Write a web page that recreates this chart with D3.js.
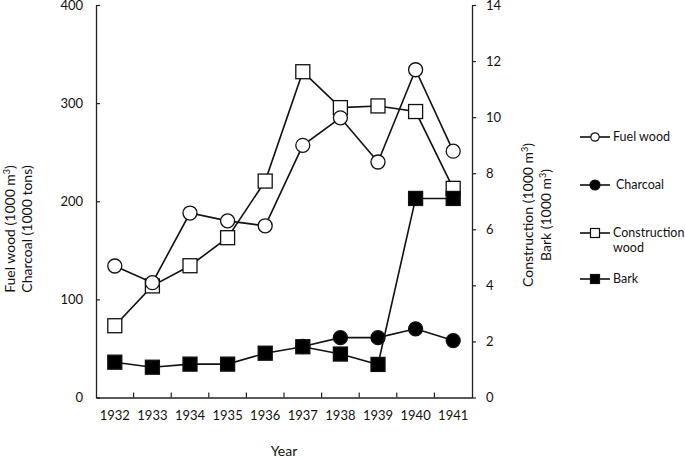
<!DOCTYPE html>
<html lang="en">
<head>
    <title>Wood products 1932-1941</title>
    <script src="https://d3js.org/d3.v7.min.js"></script>
    <style>
        body { margin: 0; background: #fff; }
        text { font-family: Lato, "Open Sans", sans-serif; fill: #111; }
    </style>
</head>
<body>
<svg id="g1"></svg>
<script>

    // values
    let years = ["1932","1933","1934","1935","1936","1937","1938","1939","1940","1941"];
    let fuelWood = [134, 117, 188, 180, 175, 257, 285, 240, 334, 251];
    let charcoal = [null, null, null, null, null, 52, 61, 61, 70, 58];
    let construction = [2.56, 3.98, 4.7, 5.7, 7.72, 11.62, 10.34, 10.4, 10.2, 7.46];
    let bark = [1.26, 1.08, 1.19, 1.19, 1.58, 1.81, 1.55, 1.18, 7.1, 7.1];
    let leftTicks = [0, 100, 200, 300, 400];
    let rightTicks = [0, 2, 4, 6, 8, 10, 12, 14];

    let width = 685, height = 459;
    let margin = {top: 5, left: 96, right: 472, bottom: 397.5};

    let svg = d3.select("#g1")
        .attr("width", width)
        .attr("height", height);

    let x = d3.scaleBand().domain(years).range([margin.left, margin.right]);
    let yLeft = d3.scaleLinear().domain([0, 400]).range([margin.bottom, margin.top]);
    let yRight = d3.scaleLinear().domain([0, 14]).range([margin.bottom, margin.top]);

    // axes
    let xAxis = svg.append("g")
        .attr("transform", `translate(0,${margin.bottom})`)
        .call(d3.axisBottom(x).tickSize(0).tickPadding(13));
    xAxis.select(".domain").attr("stroke", "#222").attr("stroke-width", 1.3);
    xAxis.selectAll("text").attr("font-size", 13).attr("dy", "0.75em");
    // tick marks between the years
    xAxis.selectAll(".sep")
        .data(years.slice(1))
        .enter().append("line")
        .attr("x1", d => x(d)).attr("x2", d => x(d))
        .attr("y1", 0).attr("y2", -5)
        .attr("stroke", "#222").attr("stroke-width", 1.2);

    let leftAxis = svg.append("g")
        .attr("transform", `translate(${margin.left},0)`)
        .call(d3.axisLeft(yLeft).tickValues(leftTicks).tickSizeInner(-4).tickSizeOuter(0).tickPadding(13));
    leftAxis.select(".domain").attr("stroke", "#222").attr("stroke-width", 1.3);
    leftAxis.selectAll("line").attr("stroke", "#222").attr("stroke-width", 1.2);
    leftAxis.selectAll("text").attr("font-size", 13);

    let rightAxis = svg.append("g")
        .attr("transform", `translate(${margin.right},0)`)
        .call(d3.axisRight(yRight).tickValues(rightTicks).tickSizeInner(4).tickSizeOuter(0).tickPadding(10));
    rightAxis.select(".domain").attr("stroke", "#222").attr("stroke-width", 1.3);
    rightAxis.selectAll("line").attr("stroke", "#222").attr("stroke-width", 1.2);
    rightAxis.selectAll("text").attr("font-size", 13);

    // axis titles
    svg.append("text")
        .attr("x", (margin.left + margin.right) / 2).attr("y", 456)
        .attr("text-anchor", "middle").attr("font-size", 14)
        .text("Year");

    let leftTitle = svg.append("text")
        .attr("transform", "translate(15,229) rotate(-90)")
        .attr("text-anchor", "middle").attr("font-size", 14);
    leftTitle.append("tspan").attr("x", 0).attr("dy", 0).text("Fuel wood (1000 m")
        .append("tspan").attr("baseline-shift", "super").attr("font-size", 9).text("3");
    leftTitle.append("tspan").text(")");
    leftTitle.append("tspan").attr("x", 0).attr("dy", 17).text("Charcoal (1000 tons)");

    let rightTitle = svg.append("text")
        .attr("transform", "translate(533,215) rotate(-90)")
        .attr("text-anchor", "middle").attr("font-size", 14);
    rightTitle.append("tspan").attr("x", 0).attr("dy", 0).text("Construction (1000 m")
        .append("tspan").attr("baseline-shift", "super").attr("font-size", 9).text("3");
    rightTitle.append("tspan").text(")");
    let bt = rightTitle.append("tspan").attr("x", 0).attr("dy", 18).text("Bark (1000 m");
    bt.append("tspan").attr("baseline-shift", "super").attr("font-size", 9).text("3");
    rightTitle.append("tspan").text(")");

    // series
    let cx = i => x(years[i]) + x.bandwidth() / 2;
    let series = [
        {name: "Construction", values: construction, y: yRight, shape: "square", fill: "#fff"},
        {name: "Fuel wood", values: fuelWood, y: yLeft, shape: "circle", fill: "#fff"},
        {name: "Charcoal", values: charcoal, y: yLeft, shape: "circle", fill: "#000"},
        {name: "Bark", values: bark, y: yRight, shape: "square", fill: "#000"}
    ];

    let plot = svg.append("g").attr("id", "points");

    series.forEach(s => {
        let pts = s.values.map((v, i) => ({i: i, v: v})).filter(d => d.v != null);
        let line = d3.line().x(d => cx(d.i)).y(d => s.y(d.v));
        let g = plot.append("g");
        g.append("path")
            .attr("d", line(pts))
            .attr("fill", "none")
            .attr("stroke", "#111")
            .attr("stroke-width", 1.6);
        if (s.shape == "circle") {
            g.selectAll("circle").data(pts).enter().append("circle")
                .attr("cx", d => cx(d.i)).attr("cy", d => s.y(d.v))
                .attr("r", 7)
                .attr("fill", s.fill).attr("stroke", "#111").attr("stroke-width", 1.3);
        } else {
            g.selectAll("rect").data(pts).enter().append("rect")
                .attr("x", d => cx(d.i) - 7).attr("y", d => s.y(d.v) - 7)
                .attr("width", 14).attr("height", 14)
                .attr("fill", s.fill).attr("stroke", "#111").attr("stroke-width", 1.3);
        }
    });

    // legend
    let legendItems = [
        {label: ["Fuel wood"], shape: "circle", fill: "#fff", y: 137, dx: 0},
        {label: ["Charcoal"], shape: "circle", fill: "#000", y: 185, dx: 3},
        {label: ["Construction", "wood"], shape: "square", fill: "#fff", y: 233, dx: 0},
        {label: ["Bark"], shape: "square", fill: "#000", y: 279, dx: 0}
    ];
    let legend = svg.append("g").attr("id", "legend");
    legendItems.forEach(d => {
        let g = legend.append("g").attr("transform", `translate(0,${d.y})`);
        g.append("line").attr("x1", 580).attr("x2", 610).attr("y1", 0).attr("y2", 0)
            .attr("stroke", "#111").attr("stroke-width", 1.6);
        if (d.shape == "circle") {
            g.append("circle").attr("cx", 595).attr("cy", 0)
                .attr("r", d.fill == "#000" ? 5 : 4.2)
                .attr("fill", d.fill).attr("stroke", "#111").attr("stroke-width", 1.2);
        } else {
            g.append("rect").attr("x", 590.5).attr("y", -4.5).attr("width", 9).attr("height", 9)
                .attr("fill", d.fill).attr("stroke", "#111").attr("stroke-width", 1.2);
        }
        let t = g.append("text").attr("x", 613 + d.dx).attr("y", 0)
            .attr("font-size", 12.5);
        d.label.forEach((l, k) => {
            t.append("tspan").attr("x", 613 + d.dx).attr("dy", k == 0 ? "0.35em" : 15).text(l);
        });
    });

</script>
</body>
</html>
